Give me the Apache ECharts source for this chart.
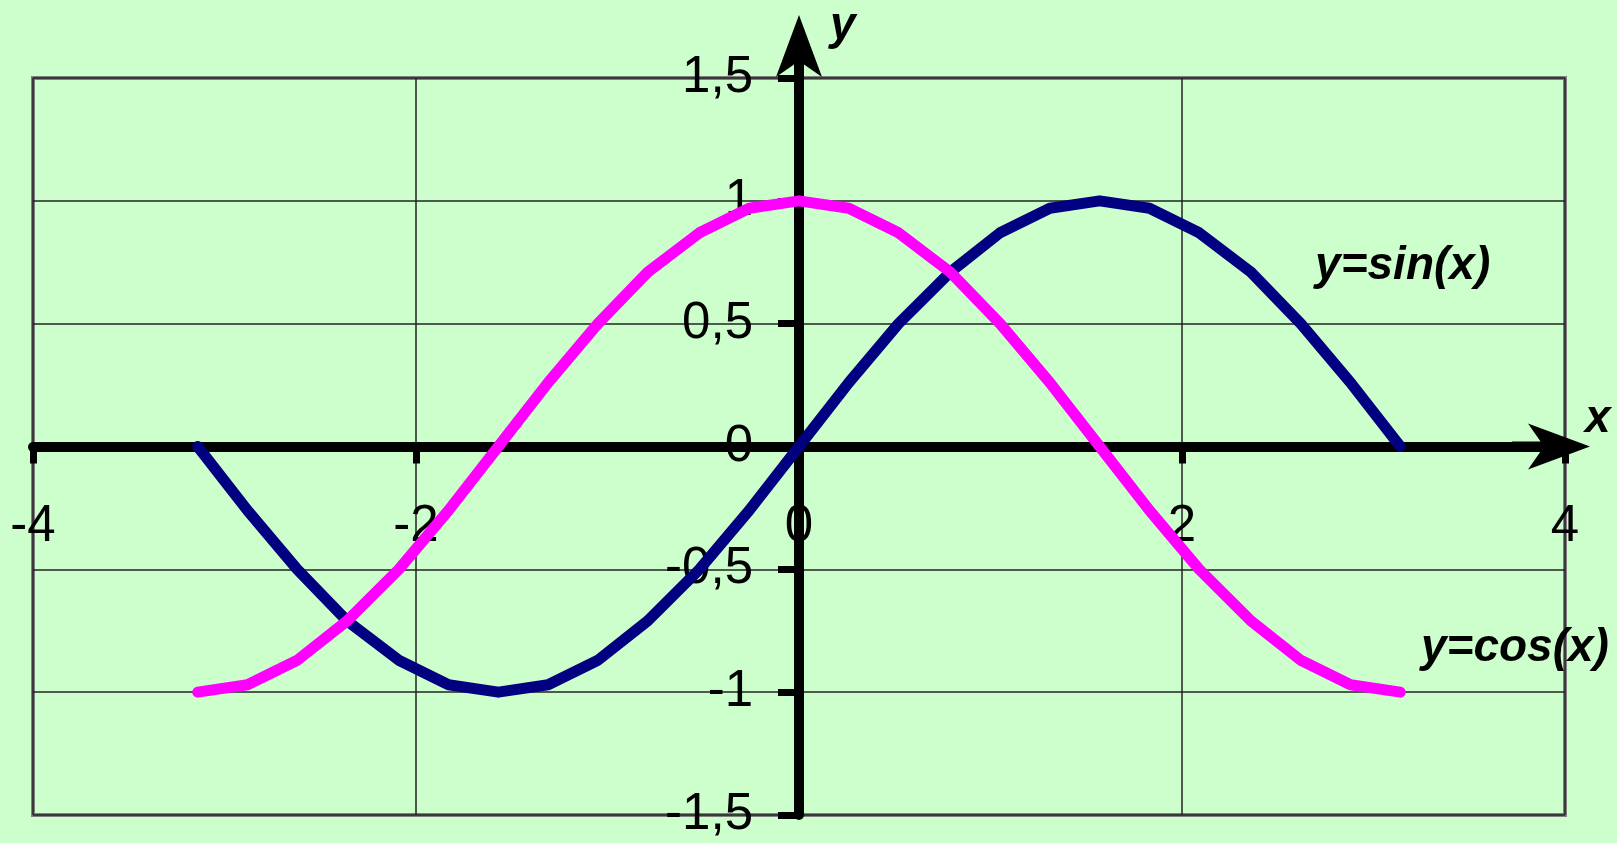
<!DOCTYPE html>
<html>
<head>
  <meta charset="utf-8">
  <title>y=sin(x), y=cos(x)</title>
  <script src="https://cdn.jsdelivr.net/npm/echarts@6/dist/echarts.min.js"></script>
  <style>
    html, body { margin: 0; padding: 0; background: #ccffcc; }
    #main { width: 1617px; height: 843px; }
  </style>
</head>
<body>
  <div id="main"></div>
  <script>
    // data (step about pi/12)
    var xVals = [-3.14, -2.88, -2.62, -2.36, -2.09, -1.83, -1.57, -1.31, -1.05, -0.79, -0.52, -0.26, 0,
                 0.26, 0.52, 0.79, 1.05, 1.31, 1.57, 1.83, 2.09, 2.36, 2.62, 2.88, 3.14];
    var sinVals = [0, -0.26, -0.5, -0.71, -0.87, -0.97, -1, -0.97, -0.87, -0.71, -0.5, -0.26, 0,
                   0.26, 0.5, 0.71, 0.87, 0.97, 1, 0.97, 0.87, 0.71, 0.5, 0.26, 0];
    var cosVals = [-1, -0.97, -0.87, -0.71, -0.5, -0.26, 0, 0.26, 0.5, 0.71, 0.87, 0.97, 1,
                   0.97, 0.87, 0.71, 0.5, 0.26, 0, -0.26, -0.5, -0.71, -0.87, -0.97, -1];
    var xTicks = [-4, -2, 0, 2, 4];
    var yTicks = [-1.5, -1, -0.5, 0, 0.5, 1, 1.5];
    var seriesNames = ['y=sin(x)', 'y=cos(x)'];

    function pairs(ys) {
      var out = [];
      for (var i = 0; i < xVals.length; i++) out.push([xVals[i], ys[i]]);
      return out;
    }

    // grid box in px; axes are pushed inwards to cross at the origin
    var gridL = 33, gridR = 52, gridT = 78, gridB = 28;
    var W = 1617, H = 843;
    var xAxisShift = -((H - gridT - gridB) / 2);
    var yAxisShift = -((W - gridL - gridR) / 2);

    // arrow head + short stem, so the axis line runs into the notch
    var arrowPath = 'path://M23,0 L46,62 L23,46 L0,62 Z M18,40 L28,40 L28,78 L18,78 Z';

    var chart = echarts.init(document.getElementById('main'));
    var option = {
      backgroundColor: '#ccffcc',
      animation: false,
      grid: {
        left: gridL, right: gridR, top: gridT, bottom: gridB,
        show: true,
        borderColor: '#808080',
        borderWidth: 4,
        outerBoundsMode: 'none'
      },
      xAxis: {
        type: 'value',
        position: 'bottom',
        offset: xAxisShift,
        min: xTicks[0],
        max: xTicks[xTicks.length - 1],
        interval: xTicks[1] - xTicks[0],
        axisLine: {
          onZero: false,
          lineStyle: { color: '#000', width: 10 },
          symbol: ['none', arrowPath],
          symbolSize: [46, 78],
          symbolOffset: [0, -14]
        },
        axisTick: { show: true, inside: false, length: 17, lineStyle: { color: '#000', width: 7 } },
        axisLabel: {
          show: true,
          margin: 55,
          color: '#000',
          fontSize: 51,
          fontFamily: 'Liberation Sans',
          formatter: function (v) { return String(v).replace('.', ','); }
        },
        splitLine: { show: true, lineStyle: { color: '#222', width: 1.5 } }
      },
      yAxis: {
        type: 'value',
        position: 'left',
        offset: yAxisShift,
        min: yTicks[0],
        max: yTicks[yTicks.length - 1],
        interval: yTicks[1] - yTicks[0],
        axisLine: {
          onZero: false,
          lineStyle: { color: '#000', width: 10 },
          symbol: ['none', arrowPath],
          symbolSize: [46, 78],
          symbolOffset: [0, 24]
        },
        axisTick: { show: true, inside: false, length: 21, lineStyle: { color: '#000', width: 7 } },
        axisLabel: {
          show: true,
          margin: 46,
          color: '#000',
          fontSize: 51,
          fontFamily: 'Liberation Sans',
          formatter: function (v) { return String(v).replace('.', ','); }
        },
        splitLine: { show: true, lineStyle: { color: '#222', width: 1.5 } }
      },
      series: [
        {
          name: seriesNames[0],
          type: 'line',
          data: pairs(sinVals),
          showSymbol: false,
          lineStyle: { color: '#000080', width: 11, join: 'round', cap: 'round' },
          itemStyle: { color: '#000080' },
          z: 3
        },
        {
          name: seriesNames[1],
          type: 'line',
          data: pairs(cosVals),
          showSymbol: false,
          lineStyle: { color: '#ff00ff', width: 11, join: 'round', cap: 'round' },
          itemStyle: { color: '#ff00ff' },
          z: 3
        }
      ]
    };
    chart.setOption(option);

    // text annotations placed through the chart's own scales
    function textAt(text, x, y) {
      var p = chart.convertToPixel({ gridIndex: 0 }, [x, y]);
      return {
        type: 'text',
        x: p[0],
        y: p[1],
        z: 20,
        style: {
          text: text,
          fill: '#000',
          font: "italic bold 46px 'Liberation Sans', Arial, sans-serif",
          align: 'left',
          verticalAlign: 'middle'
        }
      };
    }
    chart.setOption({
      graphic: [
        textAt(seriesNames[0], 2.695, 0.733),
        textAt(seriesNames[1], 3.248, -0.822),
        textAt('y', 0.162, 1.71),
        textAt('x', 4.104, 0.11)
      ]
    });
  </script>
</body>
</html>
